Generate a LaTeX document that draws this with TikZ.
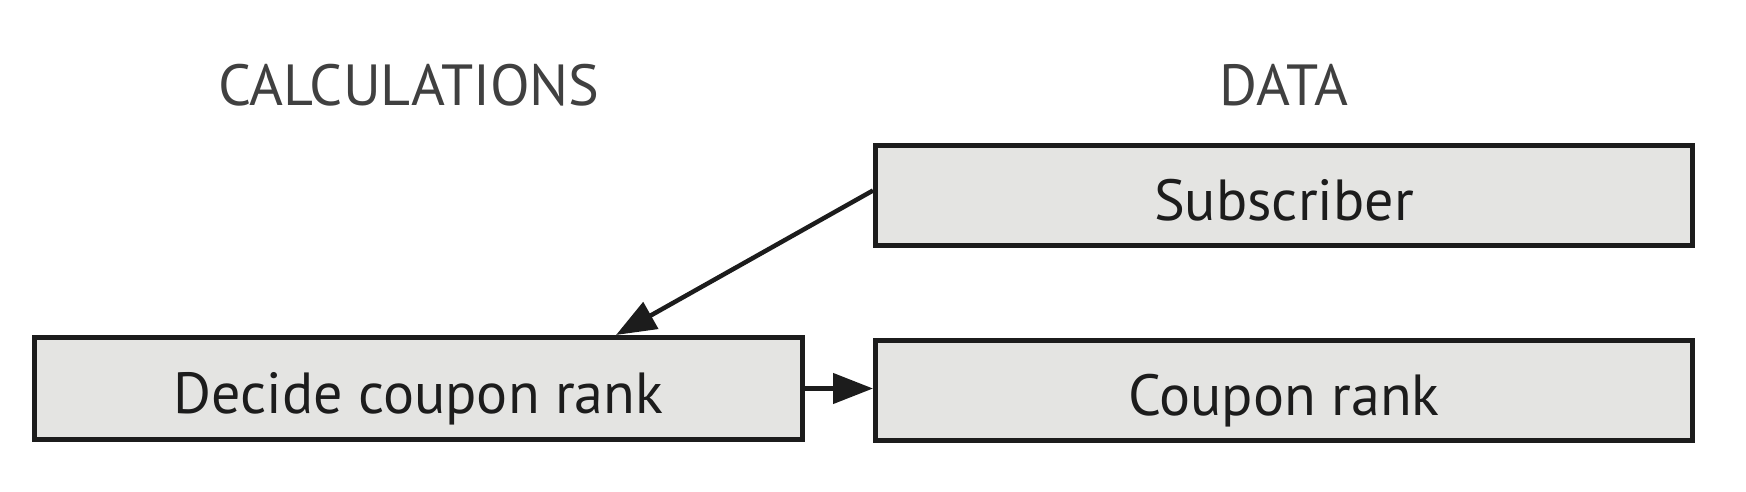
\documentclass[tikz,border=0pt]{standalone}
\usepackage{fontspec}
\setmainfont{PT Sans}
\usetikzlibrary{arrows.meta,calc}
\definecolor{boxfill}{HTML}{E4E4E2}
\definecolor{boxline}{HTML}{1C1C1C}
\definecolor{headgray}{HTML}{404040}
\begin{document}
\begin{tikzpicture}[x=1pt,y=-1pt,
  box/.style={draw=boxline,fill=boxfill,line width=5pt,inner sep=0pt,
    text height=50pt,text depth=0pt,
    font=\fontsize{58}{60}\selectfont,text=boxline},
  head/.style={font=\fontsize{58}{60}\selectfont,text=headgray,inner sep=0pt},
  conn/.style={draw=boxline,line width=4.5pt,-{Triangle[length=40pt,width=30pt]}}]
\useasboundingbox[fill=white] (0,0) rectangle (1746,492);
\node[head,anchor=base] (calc) at (409,106) {CALCULATIONS};
\node[head,anchor=base] (data) at (1284,106) {DATA};
\node[box,minimum width=817pt,minimum height=100pt] (sub) at (1284,195.5) {Subscriber};
\node[box,minimum width=768pt,minimum height=102pt] (dec) at (418.5,388.5) {Decide coupon rank};
\node[box,minimum width=817pt,minimum height=100pt] (coup) at (1284,390.5) {Coupon rank};
\draw[conn] ([yshift=5pt]sub.west) -- ([xshift=584pt]dec.north west);
\draw[conn] (dec.east) -- (dec.east -| coup.west);
\end{tikzpicture}
\end{document}
